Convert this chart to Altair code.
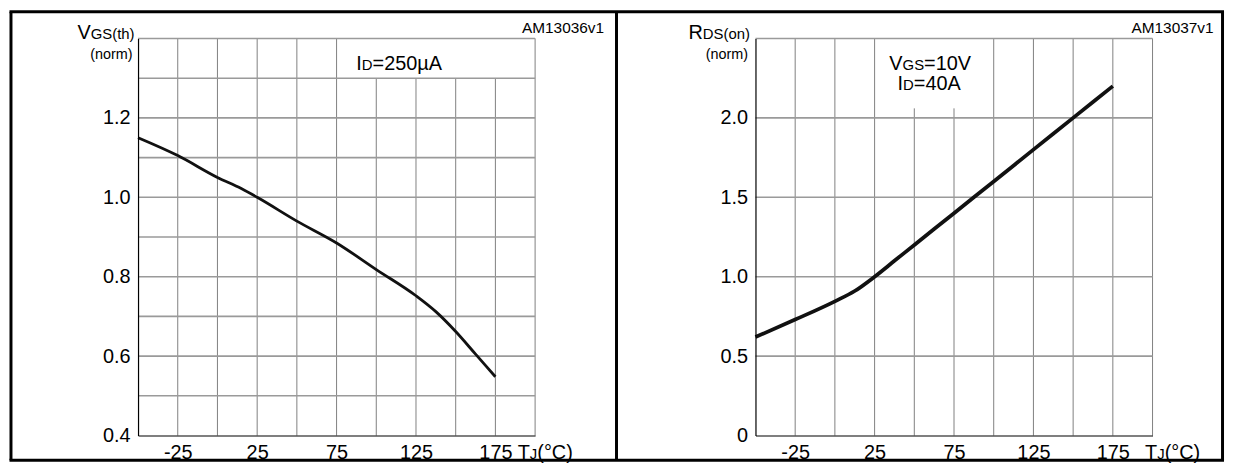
import altair as alt
import pandas as pd

FONT = "Liberation Sans"

# ---- data ----
T_vgs = [-50, -25, 0, 15, 25, 50, 75, 100, 125, 137.5, 150, 162.5, 175]
V_vgs = [1.15, 1.105, 1.05, 1.022, 1.0, 0.94, 0.885, 0.818, 0.752, 0.712, 0.662, 0.605, 0.548]

T_rds = [-50, -25, 0, 12.5, 25, 37.5, 50, 75, 100, 125, 150, 175]
R_rds = [0.62, 0.73, 0.845, 0.91, 1.0, 1.1, 1.2, 1.4, 1.6, 1.8, 2.0, 2.2]

x_ticks = [-25, 25, 75, 125, 175]
x_grid = [-25, 0, 25, 50, 75, 100, 125, 150, 175, 200]
left_y_ticks = [0.4, 0.6, 0.8, 1.0, 1.2]
left_y_grid = [0.5, 0.6, 0.7, 0.8, 0.9, 1.0, 1.1, 1.2, 1.3, 1.4]
left_grid_top = [1.4, 1.4, 1.4, 1.4, 1.4, 1.3, 1.3, 1.3, 1.3, 1.4]
right_y_ticks = [0, 0.5, 1.0, 1.5, 2.0]
right_y_grid = [0.5, 1.0, 1.5, 2.0, 2.5]
right_grid_top = [2.5, 2.5, 2.5, 2.06, 2.06, 2.5, 2.5, 2.5, 2.5, 2.5]

# ---- helpers ----
W = {' ': 278, '(': 333, ')': 333, '.': 278, '=': 584, 'A': 667, 'C': 722, 'D': 722,
     'G': 778, 'I': 278, 'J': 500, 'M': 833, 'R': 722, 'S': 667, 'T': 611, 'V': 667,
     'h': 556, 'm': 833, 'n': 556, 'o': 556, 'r': 333, 't': 278, 'v': 500, 'µ': 576, '°': 400}


def tw(s, fs):
    return sum(W.get(c, 556) for c in s) / 1000.0 * fs


one = pd.DataFrame({"k": [0]})


def text_run(parts, x, y, anchor="left"):
    total = sum(tw(t, f) for t, f in parts)
    if anchor == "right":
        x -= total
    elif anchor == "center":
        x -= total / 2
    out = []
    for t, f in parts:
        out.append(alt.Chart(one).mark_text(text=t, align="left", baseline="alphabetic",
                                            font=FONT, fontSize=f, color="black")
                   .encode(x=alt.value(x), y=alt.value(y)))
        x += tw(t, f)
    return out


P1 = (137.5, 36.5)
P2 = (759.5, 36.5)
LBL = 20
BIG = 20
SUB = 15


def panel(T, Y, xdom, ydom, yticks, ygrid, gtop, ylabel_expr, stroke_w, texts):
    xs = alt.Scale(domain=xdom, nice=False, zero=False)
    ys = alt.Scale(domain=ydom, nice=False, zero=False)
    xaxis = alt.Axis(values=x_ticks, labelFontSize=LBL, labelFont=FONT, labelColor="black",
                     ticks=False, grid=False, domain=True, domainColor="black",
                     domainWidth=1.2, labelPadding=7, title=None, zindex=1,
                     labelFlush=False,
                     labelExpr="datum.value < 0 ? '-' + format(-datum.value, 'd') : format(datum.value, 'd')")
    yopts = dict(values=yticks, labelFontSize=LBL, labelFont=FONT, labelColor="black",
                 ticks=False, grid=False, domain=True, domainColor="black",
                 domainWidth=1.2, labelPadding=8, title=None, zindex=1)
    if ylabel_expr:
        yopts["labelExpr"] = ylabel_expr
    else:
        yopts["format"] = ".1f"
    yaxis = alt.Axis(**yopts)

    vg = pd.DataFrame({"T": x_grid, "V": [ydom[0]] * len(x_grid), "hi": gtop})
    hg = pd.DataFrame({"V": ygrid, "T": [xdom[0]] * len(ygrid), "b": [xdom[1]] * len(ygrid)})
    vlines = alt.Chart(vg).mark_rule(color="#808080", strokeWidth=1).encode(
        x=alt.X("T:Q", scale=xs, axis=xaxis),
        y=alt.Y("V:Q", scale=ys, axis=yaxis), y2="hi:Q")
    hlines = alt.Chart(hg).mark_rule(color="#9a9a9a", strokeWidth=1.6).encode(
        y=alt.Y("V:Q", scale=ys, axis=yaxis),
        x=alt.X("T:Q", scale=xs, axis=xaxis), x2="b:Q")
    df = pd.DataFrame({"T": T, "V": Y})
    curve = alt.Chart(df).mark_line(color="#111111", strokeWidth=stroke_w,
                                    interpolate="monotone").encode(
        x=alt.X("T:Q", scale=xs, axis=xaxis),
        y=alt.Y("V:Q", scale=ys, axis=yaxis))
    return alt.layer(vlines, hlines, curve, *texts).properties(width=400, height=400)


ox1, oy1 = P1
ox2, oy2 = P2

texts1 = []
texts1 += text_run([("V", BIG), ("GS(th)", SUB)], 134 - ox1, 37 - oy1, "right")
texts1 += text_run([("(norm)", 14.5)], 132 - ox1, 57 - oy1, "right")
texts1 += text_run([("I", BIG), ("D", SUB), ("=250µA", BIG)], 400.5 - ox1, 68.5 - oy1, "center")
texts1 += text_run([("AM13036v1", 15.5)], 607 - ox1, 30.5 - oy1, "right")
texts1 += text_run([("T", BIG), ("J", SUB), ("(°C)", BIG)], 520 - ox1, 460 - oy1, "left")

# outer frame and divider (decoration), in panel-1 pixel space
fl, fr, ft, fb, fd = 9.5 - ox1, 1230 - ox1, 9.5 - oy1, 461.5 - oy1, 619.5 - ox1
frame = [
    alt.Chart(one).mark_rule(color="black", strokeWidth=3).encode(
        x=alt.value(fl), y=alt.value(ft), y2=alt.value(fb)),
    alt.Chart(one).mark_rule(color="black", strokeWidth=3).encode(
        x=alt.value(fr), y=alt.value(ft), y2=alt.value(fb)),
    alt.Chart(one).mark_rule(color="black", strokeWidth=3).encode(
        x=alt.value(fd), y=alt.value(ft), y2=alt.value(fb)),
    alt.Chart(one).mark_rule(color="black", strokeWidth=3).encode(
        x=alt.value(fl - 1.5), x2=alt.value(fr + 1.5), y=alt.value(ft)),
    alt.Chart(one).mark_rule(color="black", strokeWidth=3).encode(
        x=alt.value(fl - 1.5), x2=alt.value(fr + 1.5), y=alt.value(fb)),
]
texts1 += frame

texts2 = []
texts2 += text_run([("R", BIG), ("DS(on)", SUB)], 754 - ox2, 37 - oy2, "right")
texts2 += text_run([("(norm)", 14.5)], 752 - ox2, 57 - oy2, "right")
texts2 += text_run([("V", BIG), ("GS", SUB), ("=10V", BIG)], 935.5 - ox2, 68 - oy2, "center")
texts2 += text_run([("I", BIG), ("D", SUB), ("=40A", BIG)], 934.5 - ox2, 88 - oy2, "center")
texts2 += text_run([("AM13037v1", 15.5)], 1221 - ox2, 30.5 - oy2, "right")
texts2 += text_run([("T", BIG), ("J", SUB), ("(°C)", BIG)], 1152 - ox2, 460 - oy2, "left")

c1 = panel(T_vgs, V_vgs, [-50, 200], [0.4, 1.4], left_y_ticks, left_y_grid, left_grid_top,
           None, 2.8, texts1)
c2 = panel(T_rds, R_rds, [-50, 200], [0, 2.5], right_y_ticks, right_y_grid, right_grid_top,
           "datum.value == 0 ? '0' : format(datum.value, '.1f')", 3.8, texts2)

chart = alt.hconcat(c1, c2, spacing=222, bounds="flush", padding=0).configure_view(stroke=None)
chart.save("out.html", embed_options={"renderer": "svg", "actions": False})
